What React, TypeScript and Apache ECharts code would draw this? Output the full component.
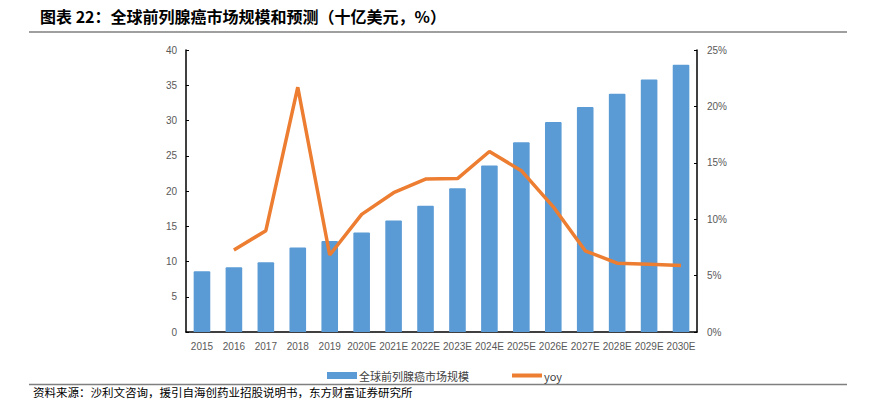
import React, { useEffect, useRef } from "react";
import * as echarts from "echarts";

const categories = ["2015", "2016", "2017", "2018", "2019", "2020E", "2021E", "2022E", "2023E", "2024E", "2025E", "2026E", "2027E", "2028E", "2029E", "2030E"];
const marketSize = [8.6, 9.2, 9.9, 12.0, 12.9, 14.1, 15.8, 17.9, 20.4, 23.6, 26.9, 29.8, 31.9, 33.8, 35.8, 37.9];
const yoy = [null, 0.0727, 0.0898, 0.217, 0.0683, 0.1043, 0.1235, 0.1356, 0.136, 0.160, 0.143, 0.111, 0.072, 0.061, 0.060, 0.059];
const leftTicks = { min: 0, max: 40, interval: 5 };
const rightTicks = { min: 0, max: 0.25, interval: 0.05 };
const title = "图表 22：全球前列腺癌市场规模和预测（十亿美元，%）";
const source = "资料来源：沙利文咨询，援引自海创药业招股说明书，东方财富证券研究所";
const barName = "全球前列腺癌市场规模";
const lineName = "yoy";

export default function App() {
  const ref = useRef<HTMLDivElement>(null);
  useEffect(() => {
    if (!ref.current) return;
    const chart = echarts.init(ref.current, null, { renderer: "svg" });
    const axisLabel = { color: "#595959", fontSize: 10, fontFamily: "Liberation Sans, Arial, sans-serif" };
    chart.setOption({
      animation: false,
      backgroundColor: "#ffffff",
      grid: { left: 186, right: 172, top: 50, bottom: 67, containLabel: false },
      graphic: [
        {
          type: "text",
          left: 40,
          top: 8,
          style: { text: title, fontSize: 16, fontWeight: "bold", fill: "#000", fontFamily: "Noto Sans CJK SC" },
        },
        { type: "line", shape: { x1: 29, y1: 32, x2: 847, y2: 32 }, style: { stroke: "#7f7f7f", lineWidth: 1.5 } },
        { type: "line", shape: { x1: 29, y1: 384.5, x2: 847, y2: 384.5 }, style: { stroke: "#7f7f7f", lineWidth: 1.5 } },
        {
          type: "text",
          left: 33,
          top: 386,
          style: { text: source, fontSize: 11.5, fill: "#000", fontFamily: "Noto Sans CJK SC" },
        },
      ],
      legend: {
        left: 322,
        top: 365,
        itemWidth: 30,
        itemHeight: 7,
        itemGap: 43,
        textStyle: { fontSize: 11, color: "#404040", fontFamily: "Noto Sans CJK SC", padding: [0, 0, 0, -3] },
        data: [
          { name: barName, icon: "rect" },
          { name: lineName, icon: "path://M0,0L30,0L30,4L0,4Z" },
        ],
      },
      xAxis: {
        type: "category",
        data: categories,
        axisLine: { lineStyle: { color: "#000", width: 1.5 } },
        axisTick: { show: false },
        axisLabel: { ...axisLabel, margin: 9, interval: 0 },
      },
      yAxis: [
        {
          type: "value",
          ...leftTicks,
          axisLine: { show: true, lineStyle: { color: "#000", width: 1.5 } },
          axisTick: { show: true, inside: true, length: 3, lineStyle: { color: "#000" } },
          splitLine: { show: false },
          axisLabel: { ...axisLabel, margin: 9 },
        },
        {
          type: "value",
          ...rightTicks,
          position: "right",
          axisLine: { show: true, lineStyle: { color: "#000", width: 1.5 } },
          axisTick: { show: true, inside: true, length: 3, lineStyle: { color: "#000" } },
          splitLine: { show: false },
          axisLabel: { ...axisLabel, margin: 10, formatter: (v: number) => `${Math.round(v * 100)}%` },
        },
      ],
      series: [
        {
          name: barName,
          type: "bar",
          data: marketSize,
          barWidth: "52%",
          itemStyle: { color: "#5B9BD5", borderRadius: [1, 1, 0, 0] },
          yAxisIndex: 0,
        },
        {
          name: lineName,
          type: "line",
          data: yoy,
          yAxisIndex: 1,
          showSymbol: false,
          symbol: "none",
          lineStyle: { color: "#ED7D31", width: 3.5 },
          itemStyle: { color: "#ED7D31" },
        },
      ],
    });
    return () => chart.dispose();
  }, []);
  return <div ref={ref} style={{ width: 869, height: 399, position: "absolute", left: 0, top: 0 }} />;
}
